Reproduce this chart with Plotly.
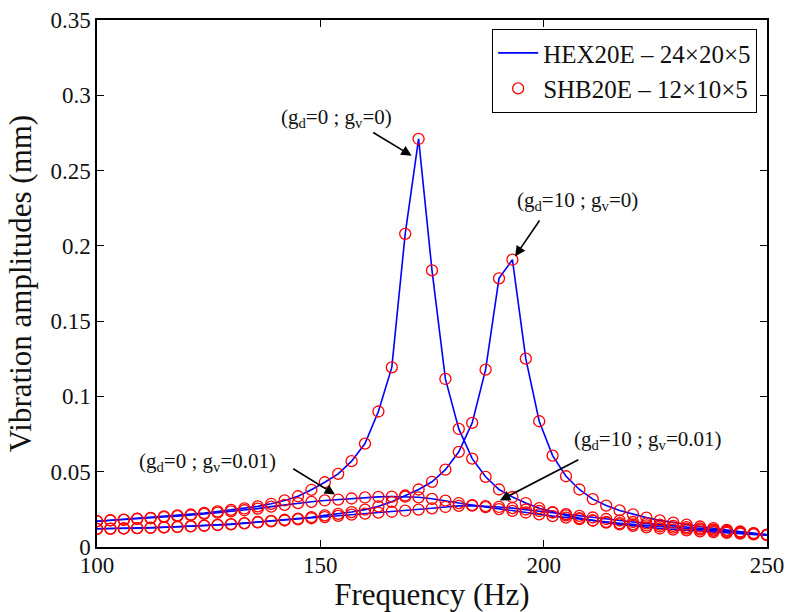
import plotly.graph_objects as go

freq = list(range(100, 251, 3))

# (gd=0 ; gv=0)
amp_gd0_gv0 = [0.0171, 0.0178, 0.0182, 0.0189, 0.0194, 0.0203, 0.0210, 0.0216, 0.0226, 0.0236,
               0.0247, 0.0256, 0.0270, 0.0287, 0.0309, 0.0337, 0.0380, 0.0430, 0.0486, 0.0570,
               0.0687, 0.0900, 0.1193, 0.2080, 0.2710, 0.1837, 0.1116, 0.0784, 0.0587, 0.0466,
               0.0382, 0.0332, 0.0292, 0.0258, 0.0232, 0.0210, 0.0192, 0.0176, 0.0162, 0.0150,
               0.0140, 0.0131, 0.0123, 0.0116, 0.0110, 0.0104, 0.0099, 0.0094, 0.0089, 0.0084,
               0.0078]

# (gd=10 ; gv=0)
amp_gd10_gv0 = [0.0121, 0.0122, 0.0124, 0.0126, 0.0128, 0.0131, 0.0134, 0.0138, 0.0142, 0.0147,
                0.0152, 0.0159, 0.0166, 0.0174, 0.0181, 0.0189, 0.0198, 0.0210, 0.0220, 0.0232,
                0.0248, 0.0270, 0.0300, 0.0342, 0.0382, 0.0433, 0.0514, 0.0632, 0.0824, 0.1178,
                0.1784, 0.1908, 0.1251, 0.0835, 0.0607, 0.0470, 0.0382, 0.0318, 0.0275, 0.0243,
                0.0217, 0.0195, 0.0177, 0.0162, 0.0148, 0.0136, 0.0125, 0.0114, 0.0103, 0.0092,
                0.0080]

# (gd=0 ; gv=0.01)
amp_gd0_gv001 = [0.0171, 0.0176, 0.0180, 0.0186, 0.0191, 0.0199, 0.0205, 0.0211, 0.0220, 0.0228,
                 0.0237, 0.0244, 0.0255, 0.0268, 0.0280, 0.0291, 0.0300, 0.0309, 0.0315, 0.0322,
                 0.0329, 0.0333, 0.0335, 0.0334, 0.0330, 0.0320, 0.0308, 0.0292, 0.0278, 0.0265,
                 0.0252, 0.0240, 0.0229, 0.0217, 0.0205, 0.0195, 0.0185, 0.0176, 0.0167, 0.0158,
                 0.0150, 0.0143, 0.0136, 0.0129, 0.0122, 0.0115, 0.0108, 0.0101, 0.0094, 0.0087,
                 0.0080]

# (gd=10 ; gv=0.01)
amp_gd10_gv001 = [0.0121, 0.0121, 0.0123, 0.0125, 0.0127, 0.0130, 0.0133, 0.0137, 0.0141, 0.0146,
                  0.0150, 0.0157, 0.0163, 0.0170, 0.0176, 0.0183, 0.0191, 0.0199, 0.0207, 0.0215,
                  0.0222, 0.0228, 0.0234, 0.0241, 0.0248, 0.0257, 0.0266, 0.0273, 0.0275, 0.0272,
                  0.0266, 0.0258, 0.0249, 0.0239, 0.0229, 0.0218, 0.0207, 0.0196, 0.0186, 0.0176,
                  0.0166, 0.0157, 0.0148, 0.0140, 0.0132, 0.0124, 0.0116, 0.0108, 0.0100, 0.0091,
                  0.0082]

series = [amp_gd0_gv0, amp_gd10_gv0, amp_gd0_gv001, amp_gd10_gv001]

x_ticks = [100, 150, 200, 250]
y_ticks = [0, 0.05, 0.1, 0.15, 0.2, 0.25, 0.3, 0.35]
y_tick_text = ["0", "0.05", "0.1", "0.15", "0.2", "0.25", "0.3", "0.35"]

FONT = "Liberation Serif"
TXT = "#111111"

fig = go.Figure()
for i, s in enumerate(series):
    fig.add_trace(go.Scatter(x=freq, y=s, mode="lines", line=dict(color="#0000ff", width=1.6),
                             name="HEX20E – 24×20×5", showlegend=(i == 0), legendrank=1))
for i, s in enumerate(series):
    fig.add_trace(go.Scatter(x=freq, y=s, mode="markers",
                             marker=dict(symbol="circle-open", size=11, color="#ff0000",
                                         line=dict(width=1.3, color="#ff0000")),
                             name="SHB20E – 12×10×5", showlegend=(i == 0), legendrank=2))

# arrows: (head_x, head_y, tail_x, tail_y)
arrows = [
    (170.45, 0.2598, 161.5, 0.2759),
    (193.6, 0.1930, 199.3, 0.2178),
    (153.3, 0.0348, 143.6, 0.0526),
    (190.2, 0.0309, 208.1, 0.0585),
]
labels = [
    ("(g<sub>d</sub>=0 ; g<sub>v</sub>=0)", 153.7, 0.285),
    ("(g<sub>d</sub>=10 ; g<sub>v</sub>=0)", 207.5, 0.230),
    ("(g<sub>d</sub>=0 ; g<sub>v</sub>=0.01)", 124.8, 0.0567),
    ("(g<sub>d</sub>=10 ; g<sub>v</sub>=0.01)", 223.3, 0.0713),
]
annotations = []
for hx, hy, tx, ty in arrows:
    annotations.append(dict(x=hx, y=hy, ax=tx, ay=ty, xref="x", yref="y", axref="x", ayref="y",
                            text="", showarrow=True, arrowhead=2, arrowsize=1.3, arrowwidth=1.6,
                            arrowcolor="black", standoff=0, startstandoff=0))
for t, lx, ly in labels:
    annotations.append(dict(x=lx, y=ly, xref="x", yref="y", text=t, showarrow=False,
                            font=dict(family=FONT, size=21, color=TXT),
                            xanchor="center", yanchor="middle"))

fig.update_layout(
    width=791, height=612,
    margin=dict(l=97, r=24, t=20, b=64.5, autoexpand=False),
    paper_bgcolor="white", plot_bgcolor="white",
    font=dict(family=FONT, size=23, color=TXT),
    showlegend=True,
    legend=dict(x=0.985, y=0.983, xanchor="right", yanchor="top",
                bgcolor="white", bordercolor="black", borderwidth=1.2,
                font=dict(family=FONT, size=25, color=TXT),
                tracegroupgap=0, itemwidth=40),
    annotations=annotations,
)
fig.update_xaxes(range=[100, 250], tickvals=x_ticks, ticks="inside", ticklen=7, tickwidth=1.2,
                 tickcolor="black", showline=True, linecolor="black", linewidth=1.5,
                 mirror="ticks", showgrid=False, zeroline=False, ticklabelstandoff=-3,
                 tickfont=dict(family=FONT, size=23, color=TXT),
                 title=dict(text="Frequency (Hz)", font=dict(family=FONT, size=31, color=TXT),
                            standoff=0))
fig.update_yaxes(range=[0, 0.35], tickvals=y_ticks, ticktext=y_tick_text, ticks="inside",
                 ticklen=7, tickwidth=1.2, tickcolor="black", showline=True, linecolor="black",
                 linewidth=1.5, mirror="ticks", showgrid=False, zeroline=False,
                 tickfont=dict(family=FONT, size=23, color=TXT),
                 title=dict(text="Vibration amplitudes (mm)",
                            font=dict(family=FONT, size=31, color=TXT), standoff=10))

fig.write_html("out.html")
